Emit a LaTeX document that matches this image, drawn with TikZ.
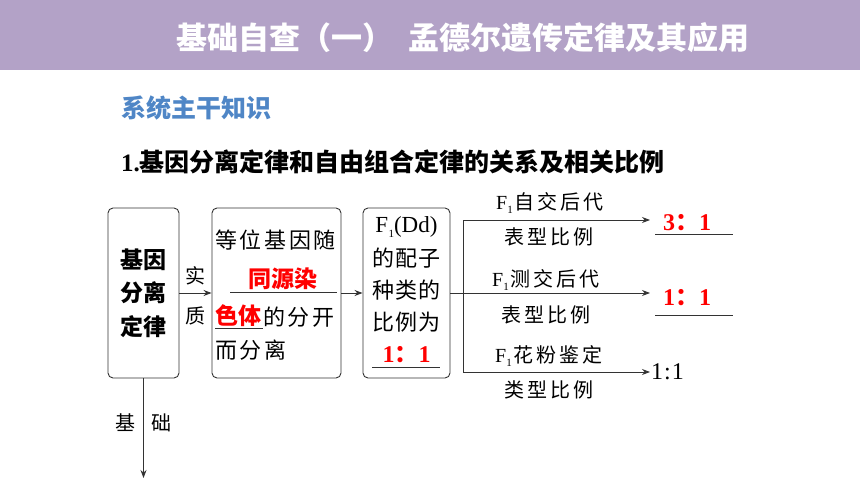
\documentclass[tikz,border=0pt]{standalone}
\usepackage{fontspec}
\setmainfont{Liberation Serif}
\newfontfamily\cjk{Noto Sans CJK SC}
\newfontfamily\cjkls{Noto Sans CJK SC}[LetterSpace=15]
\usetikzlibrary{arrows.meta}
\definecolor{hdr}{HTML}{B3A2C7}
\definecolor{hblue}{HTML}{4F86C6}
\definecolor{ln}{HTML}{333333}
\definecolor{rd}{HTML}{FF0000}
\newcommand{\fs}[1]{\fontsize{#1}{#1}\selectfont}
\newcommand{\Fone}{{\rmfamily F\kern0.3pt\raisebox{-0.2em}{\fs{11}1}}}
\begin{document}
\begin{tikzpicture}[x=1pt,y=-1pt,
  boxst/.style={draw=ln,line width=0.9pt,rounded corners=5pt,inner sep=0pt},
  arr/.style={draw=ln,line width=0.9pt,-{Stealth[length=8pt,width=6pt]}},
  lin/.style={draw=ln,line width=0.9pt},
  uline/.style={draw=ln,line width=0.8pt},
  boxtxt/.style={inner sep=0pt,font=\cjk\fs{22}},
  lbl/.style={inner sep=0pt,font=\cjkls\fs{20}},
  redtxt/.style={inner sep=0pt,text=rd,font=\bfseries\fs{24}},
]
\useasboundingbox (0,0) rectangle (860,484);
\fill[hdr] (0,0) rectangle (860,70);
\node[inner sep=0pt,text=white,font=\cjk\bfseries\fs{31}] (title) at (463,38) {基础自查（一）\hspace{16pt}孟德尔遗传定律及其应用};
\node[inner sep=0pt,anchor=west,text=hblue,font=\cjk\bfseries\fs{25}] (sub) at (121,108) {系统主干知识};
\node[inner sep=0pt,anchor=west,font=\fs{25}] (head) at (121,162) {\bfseries 1.{\cjk\bfseries 基因分离定律和自由组合定律的关系及相关比例}};

% boxes
\node[boxst,minimum width=71pt,minimum height=170pt] (b1) at (143.5,293) {};
\node[boxst,minimum width=129pt,minimum height=170pt] (b2) at (276.5,293) {};
\node[boxst,minimum width=87pt,minimum height=170pt] (b3) at (406.5,293) {};

% box1 text
\node[inner sep=0pt,font=\cjk\bfseries\fs{23}] (t1a) at (143.5,260) {基因};
\node[inner sep=0pt,font=\cjk\bfseries\fs{23}] (t1b) at (143.5,293) {分离};
\node[inner sep=0pt,font=\cjk\bfseries\fs{23}] (t1c) at (143.5,327) {定律};

% box2 text
\node[boxtxt,anchor=west,font=\cjk\fs{22}\addfontfeature{LetterSpace=12}] (t2a) at (215,240) {等位基因随};
\node[boxtxt,text=rd,font=\cjk\bfseries\fs{23}] (t2b) at (283,279) {同源染};
\node[boxtxt,anchor=west,text=rd,font=\cjk\bfseries\fs{23}] (t2c) at (215,316) {色体};
\node[boxtxt,anchor=west,font=\cjk\fs{22}\addfontfeature{LetterSpace=12}] (t2d) at (263,317) {的分开};
\node[boxtxt,anchor=west,font=\cjk\fs{22}\addfontfeature{LetterSpace=12}] (t2e) at (215,350) {而分离};
\draw[uline] (230,292) -- (337,292);
\draw[uline] (215,328) -- (263,328);

% box3 text
\node[boxtxt,font=\fs{23}] (t3a) at (406.5,227) {\Fone(Dd)};
\node[boxtxt,font=\cjk\fs{22}\addfontfeature{LetterSpace=5}] (t3b) at (406.5,258) {的配子};
\node[boxtxt,font=\cjk\fs{22}\addfontfeature{LetterSpace=5}] (t3c) at (406.5,290) {种类的};
\node[boxtxt,font=\cjk\fs{22}\addfontfeature{LetterSpace=5}] (t3d) at (406.5,322) {比例为};
\node[redtxt] (t3e) at (406.5,355) {1{\cjk\bfseries ：}1};
\draw[uline] (372,367) -- (440,367);

% connectors box1->box2->box3
\draw[arr] (b1.east) -- (b2.west);
\node[lbl] (shi) at (195,276) {实};
\node[lbl] (zhi) at (195,316) {质};
\draw[arr] (b2.east) -- (b3.west);

% fork
\coordinate (fk) at (463,293);
\coordinate (fkt) at (463,220);
\coordinate (fkb) at (463,372);
\coordinate (e1) at (650,220);
\coordinate (e2) at (650,293);
\coordinate (e3) at (650,372);
\draw[lin] (b3.east) -- (fk);
\draw[lin] (fkt) -- (fkb);
\draw[arr] (fkt) -- (e1);
\draw[arr] (fk) -- (e2);
\draw[arr] (fkb) -- (e3);

\node[lbl] (l1a) at (550,203) {\Fone\hspace{2pt}自交后代};
\node[lbl] (l1b) at (549,237) {表型比例};
\node[lbl] (l2a) at (546,280) {\Fone\hspace{2pt}测交后代};
\node[lbl] (l2b) at (546,315) {表型比例};
\node[lbl] (l3a) at (549,356) {\Fone\hspace{2pt}花粉鉴定};
\node[lbl] (l3b) at (549,390) {类型比例};

% results
\node[redtxt] (r1) at (687,223) {3{\cjk\bfseries ：}1};
\draw[uline] (655,234) -- (733,234);
\node[redtxt] (r2) at (687,298) {1{\cjk\bfseries ：}1};
\draw[uline] (655,315) -- (733,315);
\node[inner sep=0pt,anchor=west,font=\fs{24}] (r3) at (651,372) {1\kern1pt:\kern1pt1};

% bottom
\coordinate (bot) at (143.5,478);
\draw[arr] (b1.south) -- (bot);
\node[lbl] (ji) at (125,423) {基};
\node[lbl] (chu) at (161,423) {础};
\end{tikzpicture}
\end{document}
